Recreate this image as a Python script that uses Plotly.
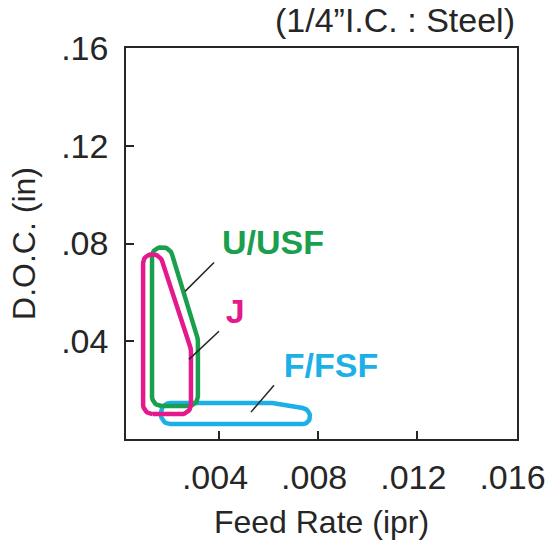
import numpy as np
import plotly.graph_objects as go

# --- data (Feed Rate ipr, D.O.C. in) ---
usf_x = [0.0013, 0.0013, 0.00202, 0.00315, 0.00315]
usf_y = [0.0135, 0.0784, 0.0784, 0.0408, 0.0135]

j_x = [0.00094, 0.00094, 0.00162, 0.00287, 0.00287]
j_y = [0.0102, 0.0755, 0.0755, 0.0367, 0.0102]

fsf_x = [0.00166, 0.00618, 0.00767, 0.00767, 0.00166]
fsf_y = [0.0147, 0.0147, 0.0122, 0.0061, 0.0061]

# leader lines (from shape edge to label)
usf_lead_x = [0.00263, 0.0038]
usf_lead_y = [0.0604, 0.0722]
j_lead_x = [0.00279, 0.0040]
j_lead_y = [0.0326, 0.0441]
fsf_lead_x = [0.00529, 0.00622]
fsf_lead_y = [0.0110, 0.0220]

labels = ["U/USF", "J", "F/FSF"]
label_x = [0.00618, 0.00465, 0.00852]
label_y = [0.0790, 0.0510, 0.0288]

x_ticks = [0.004, 0.008, 0.012, 0.016]
x_ticktext = [".004", ".008", ".012", ".016"]
y_ticks = [0.04, 0.08, 0.12, 0.16]
y_ticktext = [".04", ".08", ".12", ".16"]

GREEN = "#1a9f4f"
PINK = "#e5198b"
CYAN = "#1cb0e7"
INK = "#262626"
FONT = "Liberation Sans"

# pixels per data unit (used only to make rounded corners look round)
SX = 24800.0
SY = 2450.0


def rounded(xs, ys, r=9.5, n=10):
    p = np.column_stack([np.array(xs) * SX, np.array(ys) * SY])
    m = len(p)
    out = []
    for i in range(m):
        a, c, b = p[i - 1], p[i], p[(i + 1) % m]
        da, db = a - c, b - c
        la, lb = np.linalg.norm(da), np.linalg.norm(db)
        ua, ub = da / la, db / lb
        ang = np.arccos(np.clip(np.dot(ua, ub), -1, 1))
        d = min(r / np.tan(ang / 2), la / 2, lb / 2)
        rr = d * np.tan(ang / 2)
        bis = (ua + ub) / np.linalg.norm(ua + ub)
        ctr = c + bis * (rr / np.sin(ang / 2))
        t1 = c + ua * d
        t2 = c + ub * d
        a1 = np.arctan2(*(t1 - ctr)[::-1])
        a2 = np.arctan2(*(t2 - ctr)[::-1])
        sweep = (a2 - a1 + np.pi) % (2 * np.pi) - np.pi
        for t in np.linspace(0, 1, n):
            an = a1 + sweep * t
            out.append(ctr + rr * np.array([np.cos(an), np.sin(an)]))
    out.append(out[0])
    out = np.array(out)
    return out[:, 0] / SX, out[:, 1] / SY


fig = go.Figure()

for xs, ys, col in [(fsf_x, fsf_y, CYAN), (usf_x, usf_y, GREEN), (j_x, j_y, PINK)]:
    rx, ry = rounded(xs, ys)
    fig.add_trace(go.Scatter(x=rx, y=ry, mode="lines",
                             line=dict(color=col, width=4.5),
                             hoverinfo="skip", showlegend=False))

for lx, ly in [(usf_lead_x, usf_lead_y), (j_lead_x, j_lead_y), (fsf_lead_x, fsf_lead_y)]:
    fig.add_trace(go.Scatter(x=lx, y=ly, mode="lines",
                             line=dict(color=INK, width=1.5),
                             hoverinfo="skip", showlegend=False))

fig.add_trace(go.Scatter(x=label_x, y=label_y, mode="text", text=labels,
                         textfont=dict(family=FONT, size=34, weight="bold",
                                       color=[GREEN, PINK, CYAN]),
                         hoverinfo="skip", showlegend=False))

fig.add_annotation(text="(1/4\u201dI.C. : Steel)", xref="paper", yref="paper",
                   x=1.0, y=1.072, xanchor="right", yanchor="middle",
                   showarrow=False, font=dict(family=FONT, size=34, color=INK))

fig.update_xaxes(range=[0.00025, 0.01602], tickvals=x_ticks, ticktext=x_ticktext,
                 ticks="inside", ticklen=8, tickcolor=INK, tickwidth=1.5,
                 showline=True, mirror=True, linecolor=INK, linewidth=1.5,
                 showgrid=False, zeroline=False, automargin=False,
                 tickfont=dict(family=FONT, size=34, color=INK),
                 ticklabelstandoff=7, ticklabelshift=-4,
                 title=dict(text="Feed Rate (ipr)", standoff=16,
                            font=dict(family=FONT, size=32, color=INK)))
fig.update_yaxes(range=[0, 0.16], tickvals=y_ticks, ticktext=y_ticktext,
                 ticks="inside", ticklen=8, tickcolor=INK, tickwidth=1.5,
                 showline=True, mirror=True, linecolor=INK, linewidth=1.5,
                 showgrid=False, zeroline=False, automargin=False,
                 tickfont=dict(family=FONT, size=34, color=INK), ticklabelstandoff=9,
                 title=dict(text="D.O.C. (in)", standoff=16,
                            font=dict(family=FONT, size=32, color=INK)))

fig.update_layout(width=550, height=544, plot_bgcolor="white", paper_bgcolor="white",
                  margin=dict(l=126, r=33, t=48, b=105))

# drop the browser's default 8px body margin so the figure fills the window
fig.write_html("out.html", config={"displayModeBar": False},
               post_script="document.body.style.margin='0';")
